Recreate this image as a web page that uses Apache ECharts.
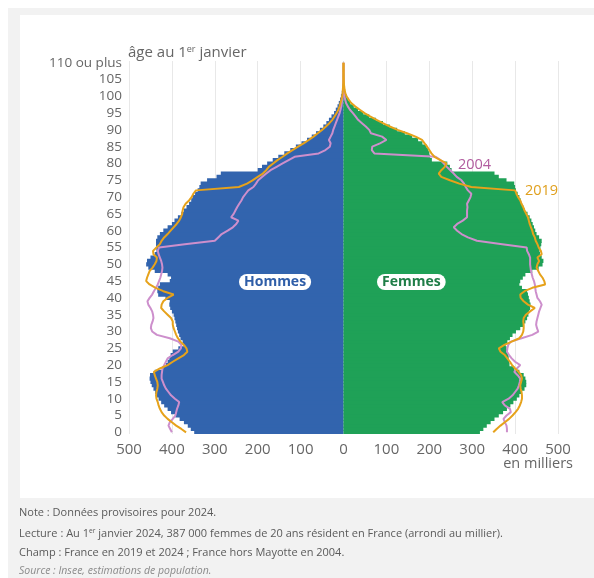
<!DOCTYPE html>
<html>
<head>
<meta charset="utf-8">
<script src="https://cdn.jsdelivr.net/npm/echarts@6/dist/echarts.min.js"></script>
<style>
  html, body { margin: 0; padding: 0; background: #ffffff; }
  #frame { position: absolute; left: 8px; top: 8px; width: 586px; height: 570px; background: #f2f2f2; }
  #panel { position: absolute; left: 20px; top: 15px; width: 574px; height: 483px; background: #ffffff; }
  #chart { position: absolute; left: 0; top: 0; width: 594px; height: 578px; }
  #ytitle { position: absolute; left: 128px; top: 42px; font: 15px "Open Sans", sans-serif; color: #666; line-height: 18px; white-space: nowrap; }
  #ytitle sup, .notes sup { font-size: 0.6em; line-height: 0; vertical-align: 0.55em; }
  .notes { position: absolute; left: 19px; font: 11px "Open Sans", sans-serif; color: #5a5a5a; white-space: nowrap; line-height: 14px; }
</style>
</head>
<body>
<div id="frame"></div>
<div id="panel"></div>
<div id="chart"></div>
<div id="ytitle">âge au 1<sup>er</sup> janvier</div>
<div class="notes" style="top:505px">Note : Données provisoires pour 2024.</div>
<div class="notes" style="top:526px">Lecture : Au 1<sup>er</sup> janvier 2024, 387 000 femmes de 20 ans résident en France (arrondi au millier).</div>
<div class="notes" style="top:545px">Champ : France en 2019 et 2024 ; France hors Mayotte en 2004.</div>
<div class="notes" style="top:563px; font-style: italic; color:#8a8a8a; font-size:10.5px">Source : Insee, estimations de population.</div>
<script>
// Age categories (0 .. 109, then "110 ou plus")
const ages = [];
for (let a = 0; a < 110; a++) ages.push(String(a));
ages.push('110 ou plus');

// x-axis ticks (thousands)
const xTicks = [-500, -400, -300, -200, -100, 0, 100, 200, 300, 400, 500];

// Population in thousands, ages 0..110
const hommes2024 = [
  348, 356, 363, 372, 382, 392, 402, 410, 418, 425,
  431, 435, 439, 443, 447, 450, 452, 451, 440, 422,
  414, 410, 406, 403, 398, 385, 372, 375, 380, 383,
  386, 388, 390, 392, 394, 396, 400, 404, 406, 405,
  415, 432, 434, 432, 428, 405, 402, 410, 440, 455,
  460, 458, 450, 440, 436, 436, 437, 437, 434, 428,
  420, 410, 400, 394, 386, 378, 372, 366, 360, 355,
  352, 346, 340, 336, 333, 318, 296, 286, 200, 190,
  178, 165, 152, 138, 124, 111, 98, 85, 74, 64,
  55, 47, 40, 34, 28, 22, 18, 14, 11, 8,
  6, 4, 3, 2, 1.5, 1, 0.6, 0.4, 0.2, 0.1, 0.1
];
const femmes2024 = [
  318, 326, 334, 343, 352, 362, 372, 381, 389, 396,
  404, 410, 416, 422, 426, 426, 424, 420, 410, 398,
  387, 386, 385, 384, 382, 380, 378, 382, 388, 394,
  402, 412, 420, 424, 428, 431, 433, 435, 436, 434,
  432, 430, 428, 416, 410, 412, 418, 424, 440, 455,
  464, 466, 462, 458, 457, 459, 461, 462, 456, 450,
  447, 444, 441, 438, 434, 429, 423, 419, 416, 413,
  410, 406, 402, 400, 398, 380, 362, 352, 252, 248,
  242, 206, 202, 200, 198, 194, 184, 174, 160, 143,
  125, 108, 92, 76, 60, 46, 34, 24, 16, 11,
  7, 4.5, 3, 2, 1.2, 0.7, 0.4, 0.2, 0.1, 0.1, 0.1
];
const hommes2019 = [
  367, 378, 390, 400, 410, 418, 424, 428, 431, 433,
  436, 437, 436, 434, 433, 434, 437, 440, 442, 428,
  410, 398, 385, 372, 364, 366, 372, 380, 386, 390,
  393, 396, 398, 398, 402, 410, 418, 425, 424, 420,
  410, 396, 420, 438, 452, 460, 458, 455, 452, 445,
  440, 436, 435, 443, 444, 436, 428, 424, 418, 410,
  403, 396, 389, 383, 379, 376, 375, 373, 368, 360,
  354, 350, 344, 244, 225, 212, 200, 188, 180, 174,
  164, 154, 142, 131, 119, 106, 93, 81, 70, 60,
  50, 41, 33, 26, 21, 16, 12, 9, 7, 5,
  3, 2, 1.5, 1, 0.6, 0.4, 0.2, 0.1, 0.1, 0.05, 0.05
];
const femmes2019 = [
  349, 357, 366, 376, 386, 394, 401, 407, 411, 414,
  416, 416, 415, 413, 412, 414, 416, 414, 408, 400,
  393, 388, 382, 376, 366, 362, 375, 392, 410, 416,
  419, 420, 420, 419, 420, 425, 435, 446, 430, 420,
  413, 412, 422, 440, 470, 468, 464, 458, 454, 450,
  452, 456, 452, 462, 460, 455, 452, 448, 446, 442,
  440, 437, 434, 432, 430, 426, 422, 419, 415, 412,
  407, 403, 400, 298, 270, 248, 228, 222, 228, 236,
  240, 226, 212, 205, 200, 195, 189, 183, 168, 148,
  126, 108, 92, 77, 62, 49, 38, 27, 18, 12,
  7, 4, 2.5, 1.5, 1, 0.6, 0.3, 0.2, 0.1, 0.05, 0.05
];
const hommes2004 = [
  400, 404, 408, 405, 398, 392, 390, 388, 385, 383,
  393, 402, 408, 414, 418, 421, 424, 424, 423, 422,
  418, 414, 410, 398, 385, 379, 378, 385, 405, 435,
  446, 449, 448, 445, 443, 444, 446, 450, 455, 457,
  452, 446, 442, 437, 433, 430, 427, 425, 423, 422,
  423, 425, 428, 431, 433, 430, 370, 300, 292, 284,
  270, 258, 250, 245, 262, 256, 252, 248, 243, 238,
  234, 228, 222, 210, 204, 199, 190, 180, 170, 156,
  142, 128, 114, 58, 42, 32, 30, 34, 30, 26,
  24, 21, 18, 15, 12, 9, 7, 5, 4, 3,
  2, 1, 0.6, 0.4, 0.2, 0.1, 0.05, 0.05, 0.02, 0.01, 0.01
];
const femmes2004 = [
  381, 381, 380, 376, 373, 380, 390, 388, 376, 370,
  385, 394, 400, 406, 409, 411, 412, 406, 398, 404,
  412, 400, 392, 386, 381, 382, 384, 390, 415, 440,
  454, 451, 449, 450, 452, 454, 456, 459, 462, 458,
  452, 450, 448, 447, 446, 444, 441, 439, 437, 436,
  435, 435, 435, 432, 428, 427, 370, 311, 290, 275,
  265, 257, 265, 278, 288, 288, 288, 289, 288, 292,
  296, 298, 290, 285, 281, 275, 264, 257, 249, 241,
  234, 226, 215, 72, 66, 67, 85, 100, 90, 64,
  60, 52, 43, 34, 28, 22, 15, 10, 6, 4,
  2, 1.5, 1, 0.5, 0.3, 0.2, 0.1, 0.05, 0.05, 0.02, 0.02
];

const BLUE = '#3264ae';
const GREEN = '#1fa157';
const ORANGE = '#e6a21b';
const PINK = '#cd8fcc';
const FONT = '"Open Sans", "Noto Sans", sans-serif';

const neg = arr => arr.map(v => -v);

const chart = echarts.init(document.getElementById('chart'), null, { renderer: 'canvas' });
chart.setOption({
  backgroundColor: 'transparent',
  animation: false,
  grid: { left: 129, right: 36, top: 61, bottom: 144, containLabel: false },
  xAxis: {
    type: 'value',
    min: xTicks[0],
    max: xTicks[xTicks.length - 1],
    interval: 100,
    axisLine: { show: false },
    axisTick: { show: false },
    axisLabel: {
      color: '#666', fontSize: 15, fontFamily: FONT, margin: 8,
      formatter: v => String(Math.abs(v))
    },
    splitLine: { show: true, lineStyle: { color: '#e8e8e8', width: 1 } }
  },
  yAxis: {
    type: 'category',
    data: ages,
    axisLine: { show: false },
    axisTick: { show: false },
    splitLine: { show: false },
    axisLabel: {
      color: '#666', fontSize: 13.5, fontFamily: FONT, margin: 7,
      interval: (i) => i % 5 === 0
    }
  },
  series: [
    {
      name: 'Hommes 2024', type: 'bar', data: neg(hommes2024),
      barWidth: 4.2, barGap: '-100%',
      itemStyle: { color: BLUE },
      emphasis: { disabled: true }, z: 2
    },
    {
      name: 'Femmes 2024', type: 'bar', data: femmes2024,
      barWidth: 4.2, barGap: '-100%',
      itemStyle: { color: GREEN },
      emphasis: { disabled: true }, z: 2
    },
    {
      name: 'Hommes 2004', type: 'line', data: neg(hommes2004), symbol: 'none',
      lineStyle: { color: PINK, width: 2 }, emphasis: { disabled: true }, z: 3
    },
    {
      name: 'Femmes 2004', type: 'line', data: femmes2004, symbol: 'none',
      lineStyle: { color: PINK, width: 2 }, emphasis: { disabled: true }, z: 3
    },
    {
      name: 'Hommes 2019', type: 'line', data: neg(hommes2019), symbol: 'none',
      lineStyle: { color: ORANGE, width: 2 }, emphasis: { disabled: true }, z: 4
    },
    {
      name: 'Femmes 2019', type: 'line', data: femmes2019, symbol: 'none',
      lineStyle: { color: ORANGE, width: 2 }, emphasis: { disabled: true }, z: 4
    }
  ],
  graphic: [
    {
      type: 'text', left: 239, top: 274, z: 10,
      style: {
        text: 'Hommes', fill: '#2f5ea8', font: 'bold 14px ' + FONT,
        backgroundColor: '#ffffff', borderRadius: 8, padding: [1, 5, 1, 5]
      }
    },
    {
      type: 'text', left: 377, top: 274, z: 10,
      style: {
        text: 'Femmes', fill: '#1f7d47', font: 'bold 14px ' + FONT,
        backgroundColor: '#ffffff', borderRadius: 8, padding: [1, 5, 1, 5]
      }
    },
    {
      type: 'text', left: 458, top: 157, z: 10,
      style: { text: '2004', fill: '#b15c9f', font: '14.5px ' + FONT }
    },
    {
      type: 'text', left: 525, top: 183, z: 10,
      style: { text: '2019', fill: '#e0a01e', font: '14.5px ' + FONT }
    },
    {
      type: 'text', right: 21, top: 456, z: 10,
      style: { text: 'en milliers', fill: '#666', font: '14.5px ' + FONT, textAlign: 'right' }
    }
  ]
});
</script>
</body>
</html>
